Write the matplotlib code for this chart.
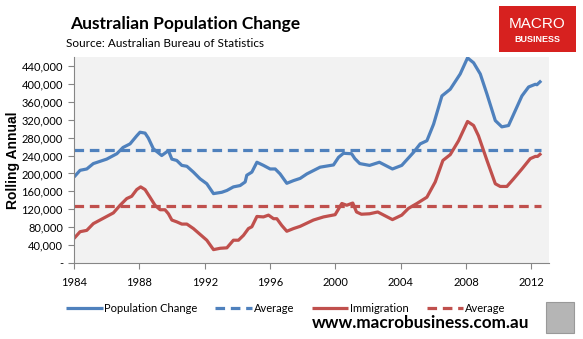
import matplotlib.pyplot as plt
from matplotlib.patches import Rectangle
from matplotlib.ticker import FuncFormatter

plt.rcParams['font.family'] = ['Lato', 'DejaVu Sans']

# rolling annual population change (thousands)
pop_years = [1984.0, 1984.37, 1984.78, 1985.18, 1986.0, 1986.62, 1987.0, 1987.43,
             1987.84, 1988.04, 1988.35, 1988.55, 1988.86, 1989.37, 1989.78, 1989.99,
             1990.29, 1990.6, 1990.91, 1991.31, 1991.72, 1992.13, 1992.54, 1993.05,
             1993.36, 1993.76, 1994.17, 1994.48, 1994.58, 1994.89, 1995.2, 1995.6,
             1996.01, 1996.32, 1996.62, 1997.03, 1997.44, 1997.85, 1998.26, 1999.07,
             1999.89, 2000.2, 2000.5, 2001.0, 2001.2, 2001.5, 2002.1, 2002.7,
             2003.5, 2004.07, 2004.79, 2005.2, 2005.61, 2006.02, 2006.53, 2007.04,
             2007.65, 2008.1, 2008.47, 2008.88, 2009.29, 2009.8, 2010.2, 2010.61,
             2011.02, 2011.43, 2011.84, 2012.25, 2012.35, 2012.61]
pop_change = [192, 207, 210, 222, 232, 244, 258, 266,
              284, 292, 290, 279, 255, 240, 251, 232,
              229, 218, 216, 203, 188, 177, 155, 158,
              162, 170, 173, 181, 196, 203, 225, 218,
              210, 210, 199, 178, 184, 189, 199, 214,
              219, 236, 245, 244, 233, 222, 218, 225,
              210, 218, 247, 266, 273, 310, 373, 388,
              422, 458, 447, 422, 377, 318, 304, 307,
              340, 373, 393, 399, 398, 407]

imm_years = [1984.0, 1984.37, 1984.78, 1985.18, 1985.59, 1986.0, 1986.41, 1986.82,
             1987.23, 1987.53, 1987.84, 1988.08, 1988.35, 1988.65, 1988.96, 1989.27,
             1989.57, 1989.78, 1989.99, 1990.29, 1990.6, 1990.91, 1991.31, 1991.72,
             1992.13, 1992.54, 1992.95, 1993.36, 1993.76, 1994.07, 1994.38, 1994.68,
             1994.89, 1995.2, 1995.6, 1995.91, 1996.22, 1996.42, 1996.72, 1997.03,
             1997.44, 1997.85, 1998.66, 1999.28, 1999.99, 2000.4, 2000.7, 2001.07,
             2001.3, 2001.6, 2002.1, 2002.6, 2003.5, 2004.07, 2004.48, 2005.0,
             2005.61, 2006.12, 2006.59, 2007.04, 2007.55, 2008.1, 2008.47, 2008.77,
             2009.29, 2009.8, 2010.1, 2010.51, 2010.92, 2011.43, 2011.94, 2012.25,
             2012.39, 2012.61]
immigration = [55, 70, 73, 88, 96, 104, 112, 129,
               144, 149, 164, 170, 164, 147, 129, 119,
               119, 110, 96, 92, 87, 87, 77, 64,
               51, 30, 33, 34, 51, 51, 62, 77,
               81, 104, 103, 107, 99, 99, 84, 71,
               77, 82, 96, 103, 108, 133, 129, 134,
               114, 109, 110, 114, 97, 107, 122, 133,
               147, 181, 229, 242, 273, 316, 307, 284,
               229, 177, 171, 171, 188, 210, 233, 238,
               238, 245]

pop_avg = 253
imm_avg = 127

x_ticks = [1984, 1988, 1992, 1996, 2000, 2004, 2008, 2012]
y_ticks = list(range(0, 440001, 40000))

blue = '#4f81bd'
red = '#c0504d'

fig = plt.figure(figsize=(5.83, 3.39), dpi=100)
ax = fig.add_axes([0.127, 0.224, 0.815, 0.608])
ax.set_facecolor('#f2f2f2')

pv = [v * 1000 for v in pop_change]
iv = [v * 1000 for v in immigration]
ax.plot(pop_years, pv, color=blue, lw=2.3, label='Population Change', solid_capstyle='butt')
ax.plot([pop_years[0], pop_years[-1]], [pop_avg * 1000] * 2, color=blue, lw=2.3,
        ls=(0, (3, 1.8)), label='Average')
ax.plot(imm_years, iv, color=red, lw=2.3, label='Immigration', solid_capstyle='butt')
ax.plot([imm_years[0], imm_years[-1]], [imm_avg * 1000] * 2, color=red, lw=2.3,
        ls=(0, (3, 1.8)), label='Average')

ax.set_xlim(1984, 2013.1)
ax.set_ylim(0, 460000)
ax.set_xticks(x_ticks)
ax.set_yticks(y_ticks)
ax.yaxis.set_major_formatter(FuncFormatter(lambda v, p: '-' if v == 0 else '{:,}'.format(int(v))))
for s in ['top', 'right']:
    ax.spines[s].set_visible(False)
for s in ['left', 'bottom']:
    ax.spines[s].set_color('#868686')
    ax.spines[s].set_linewidth(0.8)
ax.tick_params(axis='both', colors='#868686', labelcolor='black', labelsize=8, length=4, width=0.8)
ax.tick_params(axis='y', pad=4)
ax.tick_params(axis='x', pad=6)

fig.text(13 / 583, 1 - 160 / 339, 'Rolling Annual', fontsize=10, fontweight='bold',
         family='Liberation Sans', rotation=90, ha='center', va='center')

fig.text(0.121, 0.915, 'Australian Population Change', fontsize=12.5, fontweight='bold')
fig.text(0.114, 0.873, 'Source: Australian Bureau of Statistics', fontsize=8.5, va='center')

leg = fig.legend(loc='center', bbox_to_anchor=(0.49, 1 - 308 / 339), ncol=4, frameon=False,
                 fontsize=8, handlelength=3.3, handletextpad=0.15, columnspacing=1.6)

fig.text(0.535, 1 - 323 / 339, 'www.macrobusiness.com.au', fontsize=12.3, fontweight='bold', va='center')

# logo box top right
fig.patches.append(Rectangle((499 / 583, 1 - 52 / 339), 77 / 583, 46 / 339, transform=fig.transFigure,
                             facecolor='#d7211f', edgecolor='none'))
fig.text(537 / 583, 1 - 24 / 339, 'MACRO', color='white', fontsize=11, ha='center', va='center',
         family='Liberation Sans')
fig.text(537 / 583, 1 - 40 / 339, 'BUSINESS', color='white', fontsize=6.5, ha='center', va='center',
         family='Liberation Sans', fontweight='bold')
# wolf picture placeholder
fig.patches.append(Rectangle((546 / 583, 1 - 333 / 339), 28 / 583, 31 / 339, transform=fig.transFigure,
                             facecolor='#b5b5b5', edgecolor='#999999', lw=0.8))

fig.savefig('out.png', dpi=100)
